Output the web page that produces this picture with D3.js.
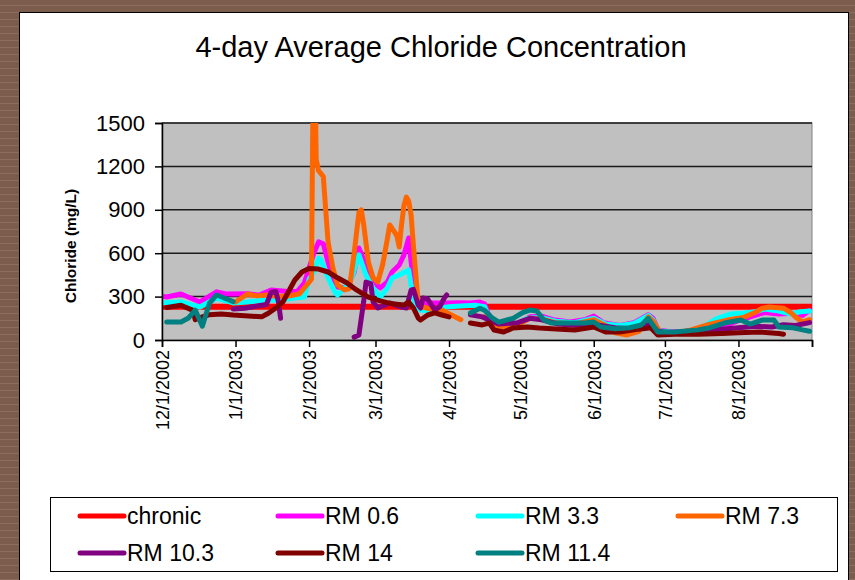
<!DOCTYPE html>
<html>
<head>
<meta charset="utf-8">
<script src="https://cdn.jsdelivr.net/npm/d3@7"></script>
<style>
  body { margin: 0; background: #7a5b4c; }
  svg { display: block; font-family: "Liberation Sans", Arial, Helvetica, sans-serif; }
</style>
</head>
<body>
<svg id="chart"></svg>
<script>
const width = 855, height = 580;
const plot = { left: 162, right: 812, top: 123, bottom: 340 };

// x axis: month ticks and their labels (last tick has no label)
const monthTicks = ['2002-12-01', '2003-01-01', '2003-02-01', '2003-03-01', '2003-04-01',
  '2003-05-01', '2003-06-01', '2003-07-01', '2003-08-01', '2003-09-01'];
const tickLabels = ['12/1/2002', '1/1/2003', '2/1/2003', '3/1/2003', '4/1/2003',
  '5/1/2003', '6/1/2003', '7/1/2003', '8/1/2003', ''];
const yTicks = [0, 300, 600, 900, 1200, 1500];

const seriesNames = ['chronic', 'RM 0.6', 'RM 3.3', 'RM 7.3', 'RM 10.3', 'RM 14', 'RM 11.4'];
const seriesColors = ['#ff0000', '#ff00ff', '#00ffff', '#ff6600', '#800080', '#800000', '#008080'];

// chronic criterion (mg/L)
const chronic = [['2002-12-01', 230], ['2003-09-01', 230]];

const rm06 = [['2002-12-02', 300], ['2002-12-03', 297], ['2002-12-09', 318], ['2002-12-17', 263], ['2002-12-24', 333],
  ['2002-12-28', 318], ['2003-01-06', 320], ['2003-01-11', 310], ['2003-01-16', 345], ['2003-01-23', 335],
  ['2003-01-27', 335], ['2003-01-30', 394], ['2003-02-03', 600], ['2003-02-05', 678], ['2003-02-07', 665],
  ['2003-02-09', 539], ['2003-02-11', 429], ['2003-02-13', 367], ['2003-02-17', 360], ['2003-02-20', 470],
  ['2003-02-22', 636], ['2003-02-25', 518], ['2003-02-28', 401], ['2003-03-03', 360], ['2003-03-06', 401],
  ['2003-03-08', 470], ['2003-03-11', 518], ['2003-03-13', 588], ['2003-03-15', 705], ['2003-03-16', 539],
  ['2003-03-18', 311], ['2003-03-20', 250], ['2003-03-25', 255], ['2003-03-31', 255], ['2003-04-05', 258],
  ['2003-04-10', 255], ['2003-04-14', 262], ['2003-04-16', 250], ['2003-04-18', 160], ['2003-04-21', 115],
  ['2003-04-25', 95], ['2003-04-30', 110], ['2003-05-05', 160], ['2003-05-10', 165], ['2003-05-15', 140],
  ['2003-05-22', 125], ['2003-05-28', 140], ['2003-06-01', 165], ['2003-06-05', 120], ['2003-06-12', 100],
  ['2003-06-18', 120], ['2003-06-24', 175], ['2003-06-26', 150], ['2003-06-28', 70], ['2003-07-04', 55],
  ['2003-07-10', 60], ['2003-07-18', 80], ['2003-07-26', 95], ['2003-08-02', 140], ['2003-08-08', 170],
  ['2003-08-12', 190], ['2003-08-18', 180], ['2003-08-24', 185], ['2003-08-28', 170], ['2003-08-31', 205]];

const rm33 = [['2002-12-02', 258], ['2002-12-09', 263], ['2002-12-17', 228], ['2002-12-24', 290], ['2002-12-31', 256],
  ['2003-01-06', 263], ['2003-01-14', 276], ['2003-01-19', 276], ['2003-01-26', 290], ['2003-01-30', 297],
  ['2003-02-01', 420], ['2003-02-03', 470], ['2003-02-05', 565], ['2003-02-06', 555], ['2003-02-08', 470],
  ['2003-02-10', 394], ['2003-02-12', 330], ['2003-02-13', 311], ['2003-02-16', 360], ['2003-02-19', 429],
  ['2003-02-22', 588], ['2003-02-25', 449], ['2003-02-28', 360], ['2003-03-03', 297], ['2003-03-06', 360],
  ['2003-03-08', 429], ['2003-03-11', 449], ['2003-03-15', 484], ['2003-03-16', 380], ['2003-03-18', 228],
  ['2003-03-20', 207], ['2003-03-24', 200], ['2003-03-28', 221], ['2003-04-01', 230], ['2003-04-06', 235],
  ['2003-04-12', 240], ['2003-04-16', 230], ['2003-04-18', 150], ['2003-04-22', 105], ['2003-04-28', 100],
  ['2003-05-04', 150], ['2003-05-10', 155], ['2003-05-16', 130], ['2003-05-24', 120], ['2003-06-01', 150],
  ['2003-06-06', 110], ['2003-06-12', 100], ['2003-06-18', 115], ['2003-06-24', 170], ['2003-06-26', 140],
  ['2003-06-28', 65], ['2003-07-05', 50], ['2003-07-12', 60], ['2003-07-18', 100], ['2003-07-23', 150],
  ['2003-07-29', 180], ['2003-08-03', 185], ['2003-08-08', 195], ['2003-08-12', 214], ['2003-08-18', 200],
  ['2003-08-23', 180], ['2003-08-27', 195], ['2003-08-31', 200]];

const rm73 = [['2003-01-01', 263], ['2003-01-06', 318], ['2003-01-10', 305], ['2003-01-14', 311], ['2003-01-19', 300],
  ['2003-01-24', 305], ['2003-01-28', 320], ['2003-01-31', 380], ['2003-02-01', 400], ['2003-02-02', 420],
  ['2003-02-03', 2400], ['2003-02-04', 1250], ['2003-02-05', 1170], ['2003-02-06', 1150], ['2003-02-07', 1130],
  ['2003-02-08', 900], ['2003-02-09', 680], ['2003-02-10', 590], ['2003-02-11', 500], ['2003-02-13', 380],
  ['2003-02-16', 346], ['2003-02-18', 355], ['2003-02-20', 600], ['2003-02-22', 880], ['2003-02-23', 900],
  ['2003-02-24', 800], ['2003-02-26', 539], ['2003-02-28', 429], ['2003-03-02', 401], ['2003-03-04', 520],
  ['2003-03-05', 608], ['2003-03-06', 700], ['2003-03-07', 795], ['2003-03-09', 747], ['2003-03-10', 720],
  ['2003-03-11', 643], ['2003-03-12', 800], ['2003-03-13', 930], ['2003-03-14', 988], ['2003-03-15', 960],
  ['2003-03-16', 864], ['2003-03-17', 650], ['2003-03-18', 450], ['2003-03-19', 263], ['2003-03-21', 228],
  ['2003-03-25', 210], ['2003-03-29', 207], ['2003-04-02', 173], ['2003-04-06', 140], ['2003-04-10', null],
  ['2003-04-16', 160], ['2003-04-19', 110], ['2003-04-24', 90], ['2003-04-30', 105], ['2003-05-05', 150],
  ['2003-05-10', 145], ['2003-05-16', 120], ['2003-05-24', 110], ['2003-06-01', 140], ['2003-06-06', 100],
  ['2003-06-10', 50], ['2003-06-15', 35], ['2003-06-20', 60], ['2003-06-24', 160], ['2003-06-26', 130],
  ['2003-06-29', 55], ['2003-07-05', 45], ['2003-07-12', 70], ['2003-07-20', 110], ['2003-07-28', 140],
  ['2003-08-03', 155], ['2003-08-08', 190], ['2003-08-11', 220], ['2003-08-14', 228], ['2003-08-20', 220],
  ['2003-08-23', 190], ['2003-08-25', 160], ['2003-08-28', 125], ['2003-08-31', 140]];

const rm103 = [['2002-12-31', 215], ['2003-01-05', 220], ['2003-01-10', 235], ['2003-01-14', 245], ['2003-01-16', 330],
  ['2003-01-18', 335], ['2003-01-19', 270], ['2003-01-20', 150], ['2003-01-21', null],
  ['2003-02-20', 20], ['2003-02-22', 35], ['2003-02-24', 263], ['2003-02-25', 400], ['2003-02-27', 390],
  ['2003-02-28', 263], ['2003-03-02', 221], ['2003-03-07', 256], ['2003-03-12', 228], ['2003-03-14', 221],
  ['2003-03-16', 345], ['2003-03-17', 350], ['2003-03-19', 242], ['2003-03-20', 221], ['2003-03-21', 290],
  ['2003-03-23', 283], ['2003-03-26', 207], ['2003-03-28', 228], ['2003-03-30', 290], ['2003-03-31', 311],
  ['2003-04-01', null],
  ['2003-04-10', 175], ['2003-04-15', 160], ['2003-04-22', 110], ['2003-04-30', 120], ['2003-05-05', 150],
  ['2003-05-10', 140], ['2003-05-17', 110], ['2003-05-25', 100], ['2003-06-02', 105], ['2003-06-10', 85],
  ['2003-06-18', 75], ['2003-06-25', 110], ['2003-06-28', 60], ['2003-07-05', 45], ['2003-07-15', 60],
  ['2003-07-25', 75], ['2003-08-01', 85], ['2003-08-08', 95], ['2003-08-15', 90], ['2003-08-20', 105],
  ['2003-08-25', 100], ['2003-08-31', 120]];

const rm14 = [['2002-12-03', 225], ['2002-12-09', 240], ['2002-12-14', 205], ['2002-12-15', 140], ['2002-12-18', 160],
  ['2002-12-21', 175], ['2002-12-26', 180], ['2002-12-31', 173], ['2003-01-08', 165], ['2003-01-12', 160],
  ['2003-01-15', 187], ['2003-01-18', 221], ['2003-01-21', 263], ['2003-01-23', 325], ['2003-01-26', 415],
  ['2003-01-29', 470], ['2003-02-01', 495], ['2003-02-05', 490], ['2003-02-09', 470], ['2003-02-13', 430],
  ['2003-02-17', 394], ['2003-02-21', 346], ['2003-02-26', 297], ['2003-03-03', 270], ['2003-03-08', 250],
  ['2003-03-13', 242], ['2003-03-15', 262], ['2003-03-17', 221], ['2003-03-19', 152], ['2003-03-20', 138],
  ['2003-03-23', 173], ['2003-03-26', 187], ['2003-03-29', 173], ['2003-04-01', 160], ['2003-04-02', null],
  ['2003-04-10', 118], ['2003-04-15', 104], ['2003-04-18', 117], ['2003-04-20', 69], ['2003-04-24', 55],
  ['2003-04-28', 83], ['2003-05-04', 90], ['2003-05-09', 83], ['2003-05-18', 75], ['2003-05-24', 69],
  ['2003-06-01', 90], ['2003-06-06', 55], ['2003-06-12', 55], ['2003-06-20', 75], ['2003-06-25', 85],
  ['2003-06-28', 35], ['2003-07-05', 40], ['2003-07-15', 40], ['2003-07-25', 45], ['2003-08-01', 50],
  ['2003-08-10', 55], ['2003-08-18', 45], ['2003-08-20', 40]];

const rm114 = [['2002-12-03', 124], ['2002-12-09', 124], ['2002-12-12', 150], ['2002-12-15', 207], ['2002-12-18', 95],
  ['2002-12-21', 255], ['2002-12-24', 311], ['2002-12-28', 285], ['2002-12-31', 265], ['2003-01-01', null],
  ['2003-04-10', 187], ['2003-04-14', 220], ['2003-04-16', 205], ['2003-04-19', 155], ['2003-04-22', 124],
  ['2003-04-28', 150], ['2003-05-02', 190], ['2003-05-05', 207], ['2003-05-08', 200], ['2003-05-11', 138],
  ['2003-05-14', 117], ['2003-05-22', 117], ['2003-05-28', 117], ['2003-06-01', 124], ['2003-06-04', 90],
  ['2003-06-10', 78], ['2003-06-16', 85], ['2003-06-21', 104], ['2003-06-24', 150], ['2003-06-28', 55],
  ['2003-07-05', 55], ['2003-07-15', 70], ['2003-07-20', 85], ['2003-07-26', 117], ['2003-08-02', 138],
  ['2003-08-06', 110], ['2003-08-11', 138], ['2003-08-16', 138], ['2003-08-18', 90], ['2003-08-24', 85],
  ['2003-08-28', 70], ['2003-08-31', 60]];

const seriesData = [chronic, rm06, rm33, rm73, rm103, rm14, rm114];

const parse = d3.timeParse('%Y-%m-%d');

const svg = d3.select('#chart')
  .attr('width', width)
  .attr('height', height)
  .attr('viewBox', `0 0 ${width} ${height}`);

// Brown striped slide background
const defs = svg.append('defs');
const pat = defs.append('pattern')
  .attr('id', 'stripes')
  .attr('width', 12).attr('height', 7)
  .attr('patternUnits', 'userSpaceOnUse');
pat.append('rect').attr('width', 12).attr('height', 7).attr('fill', '#7b5c4d');
pat.append('rect').attr('y', 5).attr('width', 12).attr('height', 1).attr('fill', '#8c6d5e');
svg.append('rect').attr('width', width).attr('height', height).attr('fill', 'url(#stripes)');

// White chart panel
svg.append('rect')
  .attr('x', 19.5).attr('y', 12.5)
  .attr('width', 829).attr('height', 580)
  .attr('fill', '#fff')
  .attr('stroke', '#000')
  .attr('stroke-width', 1);

// Title
svg.append('text')
  .attr('x', 441).attr('y', 57)
  .attr('text-anchor', 'middle')
  .attr('font-size', 29)
  .attr('fill', '#000')
  .text('4-day Average Chloride Concentration');

const x = d3.scaleTime()
  .domain([parse(monthTicks[0]), parse(monthTicks[monthTicks.length - 1])])
  .range([plot.left, plot.right]);
const y = d3.scaleLinear().domain([0, 1500]).range([plot.bottom, plot.top]);

// Plot area
svg.append('rect')
  .attr('x', plot.left).attr('y', plot.top)
  .attr('width', plot.right - plot.left).attr('height', plot.bottom - plot.top)
  .attr('fill', '#c0c0c0')
  .attr('stroke', '#808080');

svg.append('g')
  .selectAll('line')
  .data(yTicks.filter(d => d > 0))
  .enter()
  .append('line')
  .attr('x1', plot.left).attr('x2', plot.right)
  .attr('y1', d => y(d)).attr('y2', d => y(d))
  .attr('stroke', '#1a1a1a')
  .attr('stroke-width', 1.5);

defs.append('clipPath').attr('id', 'plotClip')
  .append('rect')
  .attr('x', plot.left).attr('y', plot.top)
  .attr('width', plot.right - plot.left).attr('height', plot.bottom - plot.top);

const line = d3.line()
  .defined(d => d[1] !== null)
  .x(d => x(parse(d[0])))
  .y(d => y(d[1]));

svg.append('g')
  .attr('clip-path', 'url(#plotClip)')
  .selectAll('path')
  .data(seriesData)
  .enter()
  .append('path')
  .attr('d', line)
  .attr('fill', 'none')
  .attr('stroke', (_, i) => seriesColors[i])
  .attr('stroke-width', (_, i) => i === 0 ? 6 : 5)
  .attr('stroke-linejoin', 'round')
  .attr('stroke-linecap', 'round');

// Axes
const xAxis = svg.append('g')
  .attr('transform', `translate(0,${plot.bottom})`)
  .call(d3.axisBottom(x)
    .tickValues(monthTicks.map(parse))
    .tickFormat((_, i) => tickLabels[i])
    .tickSize(7));
xAxis.select('.domain').attr('stroke', '#000').attr('stroke-width', 1.5);
xAxis.selectAll('.tick line').attr('stroke', '#000').attr('stroke-width', 1.5);
xAxis.selectAll('.tick text')
  .attr('transform', 'rotate(-90)')
  .attr('x', -10).attr('y', 0).attr('dy', '0.35em')
  .attr('text-anchor', 'end')
  .attr('font-size', 18)
  .attr('font-family', null)
  .attr('fill', '#000');

const yAxis = svg.append('g')
  .attr('transform', `translate(${plot.left},0)`)
  .call(d3.axisLeft(y).tickValues(yTicks).tickFormat(d3.format('d')).tickSize(7).tickPadding(10));
yAxis.select('.domain').attr('stroke', '#000').attr('stroke-width', 1.5);
yAxis.selectAll('.tick line').attr('stroke', '#000').attr('stroke-width', 1.5);
yAxis.selectAll('.tick text')
  .attr('font-size', 22)
  .attr('font-family', null)
  .attr('fill', '#000');

// Y axis title
svg.append('text')
  .attr('transform', 'translate(76,246) rotate(-90)')
  .attr('text-anchor', 'middle')
  .attr('font-size', 15.5)
  .attr('font-weight', 'bold')
  .text('Chloride (mg/L)');

// Legend
const legend = svg.append('g');
legend.append('rect')
  .attr('x', 50.5).attr('y', 497.5)
  .attr('width', 787).attr('height', 74)
  .attr('fill', '#fff')
  .attr('stroke', '#000');

const legendCols = [80, 278, 478, 678];
const legendRows = [516, 553];
const item = legend.selectAll('.item')
  .data(seriesNames)
  .enter()
  .append('g')
  .attr('class', 'item')
  .attr('transform', (_, i) => `translate(${legendCols[i % 4]},${legendRows[Math.floor(i / 4)]})`);
item.append('line')
  .attr('x1', 0).attr('x2', 44)
  .attr('stroke', (_, i) => seriesColors[i])
  .attr('stroke-width', 5)
  .attr('stroke-linecap', 'round');
item.append('text')
  .attr('x', 47).attr('dy', '0.36em')
  .attr('font-size', 23)
  .text(d => d);
</script>
</body>
</html>
